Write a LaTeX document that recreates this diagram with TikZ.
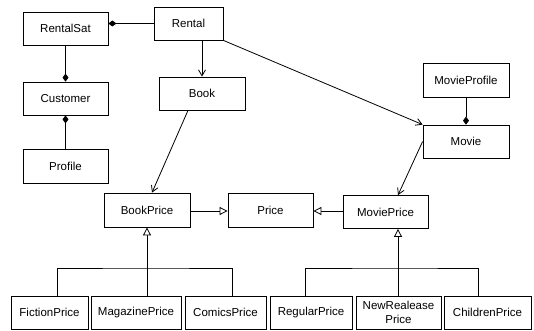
\documentclass[tikz,border=0pt]{standalone}
\usepackage{fontspec}
\setmainfont{Liberation Sans}
\usetikzlibrary{arrows.meta}
\begin{document}
\begin{tikzpicture}[x=1pt,y=-1pt,
  cls/.style={draw,line width=0.8pt,rectangle,inner sep=0pt,minimum height=33pt,font=\fontsize{11.5}{12}\selectfont,align=center},
  conn/.style={line width=0.8pt},
  nav/.style={conn,-{Straight Barb[length=6pt,width=7pt,line width=0.8pt]}},
  comp/.style={conn,{Diamond[length=8pt,width=6pt]}-},
  gen/.style={conn,-{Triangle[open,length=8pt,width=8pt,line width=0.8pt,fill=white]}}]
\useasboundingbox (0,0) rectangle (534,331);
% classes
\node[cls,minimum width=85pt] (rentalset) at (65.5,28.5) {RentalSat};
\node[cls,minimum width=69pt] (rental) at (188.5,23.5) {Rental};
\node[cls,minimum width=85pt] (customer) at (65.5,98.5) {Customer};
\node[cls,minimum width=85pt,minimum height=34pt] (profile) at (65.5,166) {Profile};
\node[cls,minimum width=86pt] (book) at (202,93.5) {Book};
\node[cls,minimum width=86pt,minimum height=34pt] (movieprofile) at (466,80) {MovieProfile};
\node[cls,minimum width=86pt] (movie) at (466,141.5) {Movie};
\node[cls,minimum width=86pt,minimum height=34pt] (bookprice) at (147,210) {BookPrice};
\node[cls,minimum width=85pt,minimum height=34pt] (price) at (270.5,210) {Price};
\node[cls,minimum width=85pt] (movieprice) at (385.5,212) {MoviePrice};
\node[cls,minimum width=77pt] (fiction) at (49.5,312.5) {FictionPrice};
\node[cls,minimum width=90pt] (magazine) at (136,312.5) {MagazinePrice};
\node[cls,minimum width=81pt] (comics) at (225.5,312.5) {ComicsPrice};
\node[cls,minimum width=82pt] (regular) at (311,312.5) {RegularPrice};
\node[cls,minimum width=85pt,font=\fontsize{11.5}{13.5}\selectfont] (newrelease) at (398.5,312.5) {NewRealease\\Price};
\node[cls,minimum width=87pt] (children) at (487.5,312.5) {ChildrenPrice};
% compositions
\draw[comp] (rentalset.east |- rental.west) -- (rental.west);
\draw[comp] (customer.north) -- (rentalset.south);
\draw[comp] (customer.south) -- (profile.north);
\draw[comp] (movie.north) -- (movieprofile.south);
% navigations
\draw[nav] (book.north |- rental.south) -- (book.north);
\draw[nav] (rental.south east) -- (movie.north west);
\draw[nav] ([xshift=-14pt]book.south) -- ([xshift=5pt]bookprice.north);
\draw[nav] (movie.west) -- ([xshift=12.5pt]movieprice.north);
% generalizations to Price
\draw[gen] (bookprice.east |- 0,211) -- (price.west |- 0,211);
\draw[gen] (movieprice.west |- 0,211) -- (price.east |- 0,211);
% book price hierarchy
\coordinate (bbar) at (147,268);
\draw[gen] (bbar) -- (bookprice.south);
\draw[conn] (fiction.north -| 57,0) |- (bbar) -| (comics.north -| 232,0);
\draw[conn] (magazine.north -| bbar) -- (bbar);
% movie price hierarchy
\coordinate (mbar) at (398,268);
\draw[gen] (mbar) -- (movieprice.south -| mbar);
\draw[conn] (regular.north -| 305,0) |- (mbar) -| (children.north -| 478,0);
\draw[conn] (newrelease.north -| mbar) -- (mbar);
\end{tikzpicture}
\end{document}
